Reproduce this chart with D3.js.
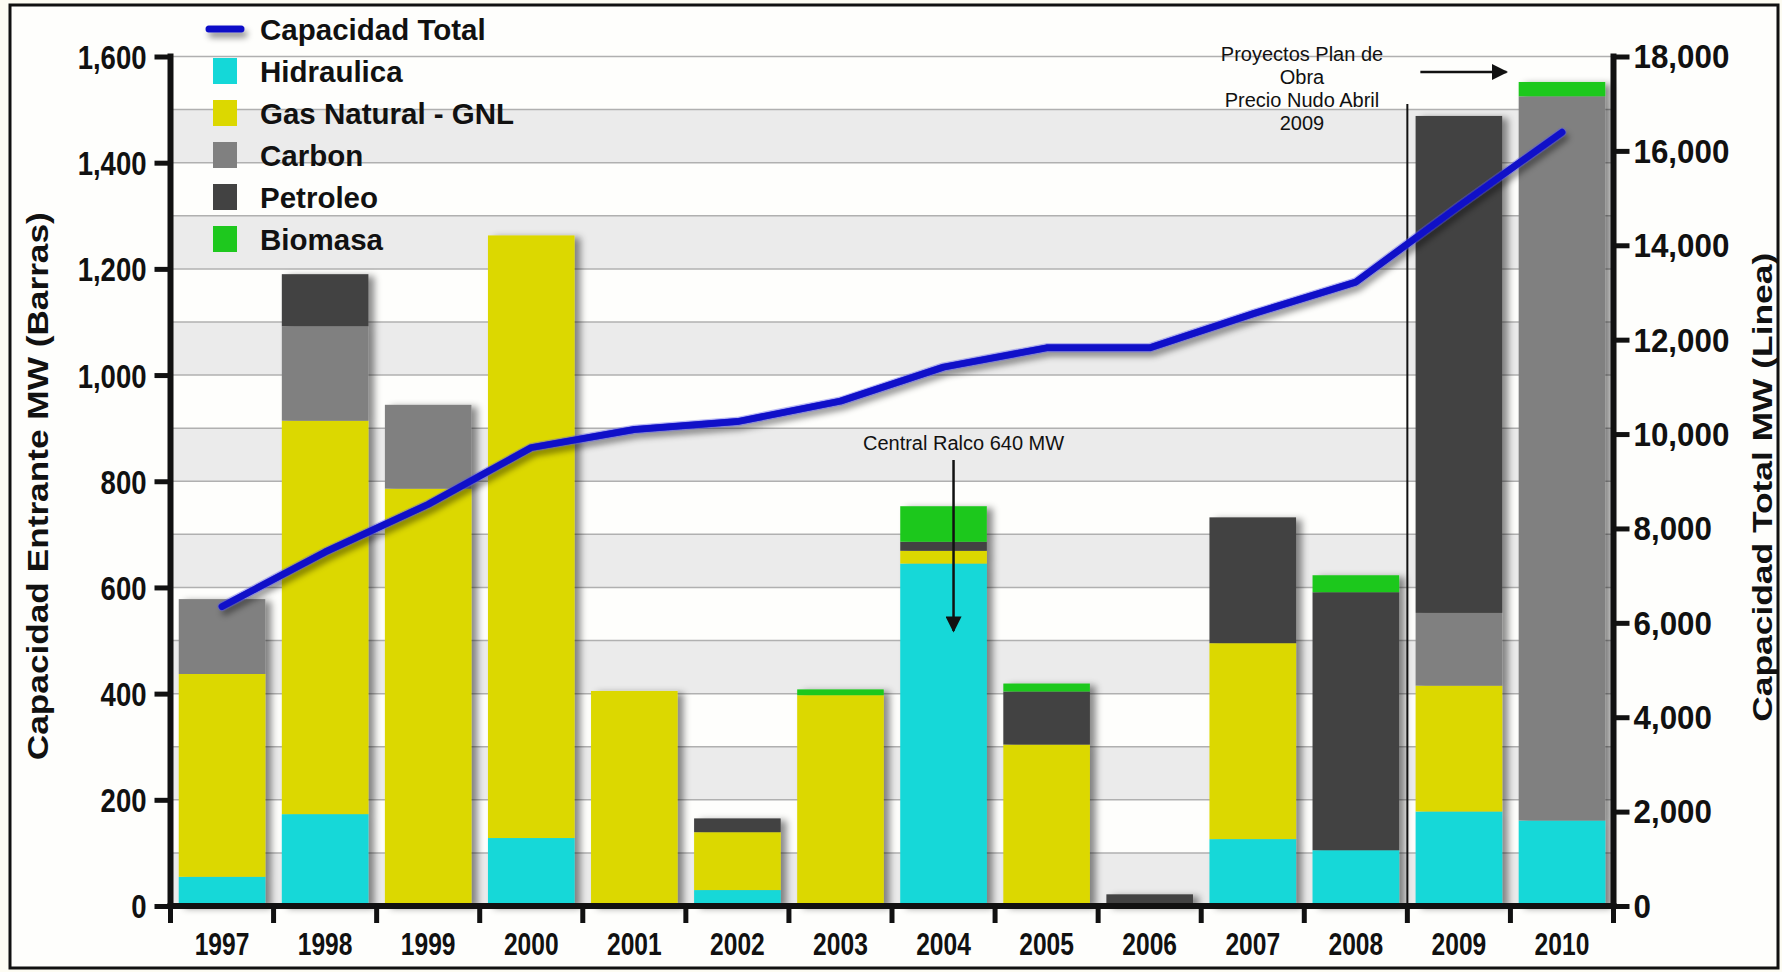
<!DOCTYPE html>
<html><head><meta charset="utf-8">
<script src="https://cdn.jsdelivr.net/npm/d3@7"></script>
<style>
html,body{margin:0;padding:0;background:#fdfcf3;}
svg{display:block;}
text{font-family:"Liberation Sans",Arial,Helvetica,sans-serif;fill:#111;}
</style></head><body>
<svg id="chart" width="1782" height="972"></svg>
<script>
// ---------- DATA ----------
const years = ["1997","1998","1999","2000","2001","2002","2003","2004","2005","2006","2007","2008","2009","2010"];
const hidraulica = [55,173,0,128,0,30,0,645,0,0,126,105,178,161];
const gasNatural = [382,741,786,1135,405,109,397,24,304,0,369,0,237,0];
const carbon     = [141,178,158,0,0,0,0,0,0,0,0,0,137,1364];
const petroleo   = [0,98,0,0,0,26,0,17,100,22,237,486,936,0];
const biomasa    = [0,0,0,0,0,0,11,67,15,0,0,32,0,27];
const capacidadTotal = [6346,7500,8510,9712,10096,10264,10697,11418,11827,11827,12548,13221,14832,16394];
const leftTicks  = [0,200,400,600,800,1000,1200,1400,1600];
const rightTicks = [0,2000,4000,6000,8000,10000,12000,14000,16000,18000];
const seriesKeys   = ["hid","gas","car","pet","bio"];
const seriesNames  = ["Hidraulica","Gas Natural - GNL","Carbon","Petroleo","Biomasa"];
const seriesColors = ["#14d8d8","#dcd800","#808080","#424242","#1ec81e"];
const lineName = "Capacidad Total";
const leftTitle = "Capacidad Entrante MW (Barras)";
const rightTitle = "Capacidad Total MW (Linea)";
const noteRalco = "Central Ralco 640 MW";
const notePlan = ["Proyectos Plan de","Obra","Precio Nudo Abril","2009"];

// ---------- SETUP ----------
const W=1782,H=972;
const svg=d3.select("#chart");
const defs=svg.append("defs");
const fb=defs.append("filter").attr("id","barShadow").attr("x","-10%").attr("y","-10%").attr("width","130%").attr("height","125%");
fb.append("feDropShadow").attr("dx",6).attr("dy",2).attr("stdDeviation",3.5).attr("flood-color","#000").attr("flood-opacity",0.45);
const fl=defs.append("filter").attr("id","lineShadow").attr("filterUnits","userSpaceOnUse")
  .attr("x",0).attr("y",0).attr("width",W).attr("height",H);
fl.append("feDropShadow").attr("dx",3).attr("dy",5).attr("stdDeviation",3).attr("flood-color","#000").attr("flood-opacity",0.45);
defs.append("marker").attr("id","arrowHead").attr("viewBox","0 0 10 10").attr("refX",9).attr("refY",5)
  .attr("markerUnits","userSpaceOnUse").attr("orient","auto")
  .attr("markerWidth",18).attr("markerHeight",16)
  .append("path").attr("d","M0,0 L10,5 L0,10 Z").attr("fill","#111");

svg.append("rect").attr("width",W).attr("height",H).attr("fill","#fdfcf3");
svg.append("rect").attr("x",10).attr("y",5).attr("width",1768).attr("height",963)
  .attr("fill","#fefefc").attr("stroke","#111").attr("stroke-width",3);

const xL=170.5, xR=1613.5, yB=906, yT=56.5;
const x=d3.scaleBand().domain(years).range([xL,xR]).paddingInner(0.16).paddingOuter(0.08);
const step=x.step(), bw=x.bandwidth(), off=step*0.08;
const yL=d3.scaleLinear().domain([0,1600]).range([yB,yT]);
const yR=d3.scaleLinear().domain([0,18000]).range([yB,yT]);

// bands + gridlines
svg.append("g").selectAll("rect").data(d3.range(0,1600,200)).join("rect")
  .attr("x",xL).attr("width",xR-xL).attr("y",d=>yL(d+100)).attr("height",d=>yL(d)-yL(d+100)).attr("fill","#ebebeb");
svg.append("g").selectAll("line").data(d3.range(100,1700,100)).join("line")
  .attr("x1",xL).attr("x2",xR).attr("y1",d=>yL(d)).attr("y2",d=>yL(d)).attr("stroke","#b0b0b0").attr("stroke-width",1.5);

// stacked bars
const rows=years.map((y,i)=>({year:y,hid:hidraulica[i],gas:gasNatural[i],car:carbon[i],pet:petroleo[i],bio:biomasa[i]}));
const stack=d3.stack().keys(seriesKeys)(rows);
const gBars=svg.append("g").attr("filter","url(#barShadow)");
stack.forEach((layer,li)=>{
  gBars.append("g").attr("fill",seriesColors[li]).selectAll("rect").data(layer.filter(d=>d[1]-d[0]>0)).join("rect")
    .attr("x",d=>x(d.data.year)).attr("width",bw)
    .attr("y",d=>yL(d[1])).attr("height",d=>yL(d[0])-yL(d[1]));
});

// separator line
const xSep=x("2009")-off;
svg.append("line").attr("x1",xSep).attr("x2",xSep).attr("y1",104).attr("y2",yB).attr("stroke","#111").attr("stroke-width",2);

// line
const lineData=years.map((y,i)=>({year:y,v:capacidadTotal[i]}));
const lineGen=d3.line().x(d=>x(d.year)+bw/2).y(d=>yR(d.v));
svg.append("path").datum(lineData).attr("d",lineGen).attr("fill","none").attr("stroke","#1010c8")
  .attr("stroke-width",7).attr("stroke-linejoin","round").attr("stroke-linecap","round").attr("filter","url(#lineShadow)");
svg.append("path").datum(lineData).attr("d",lineGen).attr("fill","none").attr("stroke","#5a5aee")
  .attr("stroke-width",9.5).attr("stroke-opacity",0.4).attr("stroke-linejoin","round").attr("stroke-linecap","round");
svg.append("path").datum(lineData).attr("d",lineGen).attr("fill","none").attr("stroke","#1010c8")
  .attr("stroke-width",6.5).attr("stroke-linejoin","round").attr("stroke-linecap","round");

// left axis
const axL=svg.append("g").attr("transform",`translate(${xL},0)`)
  .call(d3.axisLeft(yL).tickValues(leftTicks).tickSize(16).tickSizeOuter(0).tickFormat(d3.format(",")));
axL.select(".domain").attr("stroke","#111").attr("stroke-width",6).attr("d",`M0,${yB+3}V${yT-3}`);
axL.selectAll(".tick line").attr("stroke","#111").attr("stroke-width",5);
axL.selectAll(".tick text").attr("x",null).attr("dy",null).attr("dominant-baseline","central")
  .attr("transform","translate(-24,0) scale(0.86,1.04)").attr("font-size",32).attr("font-weight","bold").attr("text-anchor","end");

// right axis
const axR=svg.append("g").attr("transform",`translate(${xR},0)`)
  .call(d3.axisRight(yR).tickValues(rightTicks).tickSize(16).tickSizeOuter(0).tickFormat(d3.format(",")));
axR.select(".domain").attr("stroke","#111").attr("stroke-width",6).attr("d",`M0,${yB+3}V${yT-3}`);
axR.selectAll(".tick line").attr("stroke","#111").attr("stroke-width",5);
axR.selectAll(".tick text").attr("x",null).attr("dy",null).attr("dominant-baseline","central")
  .attr("transform","translate(20,0) scale(0.95,1.02)").attr("font-size",33).attr("font-weight","bold").attr("text-anchor","start");

// bottom axis
const axB=svg.append("g").attr("transform",`translate(0,${yB})`)
  .call(d3.axisBottom(x).tickSize(0).tickSizeOuter(0));
axB.select(".domain").attr("stroke","#111").attr("stroke-width",6).attr("d",`M${xL-3},0H${xR+3}`);
axB.selectAll(".tick text").attr("y",null).attr("dy",null)
  .attr("transform","translate(0,49) scale(0.82,1.05)").attr("font-size",30).attr("font-weight","bold").attr("text-anchor","middle");
axB.append("g").selectAll("line").data(d3.range(0,years.length+1)).join("line")
  .attr("x1",i=>xL+i*step).attr("x2",i=>xL+i*step).attr("y1",0).attr("y2",17).attr("stroke","#111").attr("stroke-width",5);

// axis titles
svg.append("text").attr("transform",`translate(37,${(yB+yT)/2+5}) rotate(-90)`).attr("text-anchor","middle")
  .attr("dominant-baseline","central").attr("font-size",30).attr("font-weight","bold").attr("fill","#333")
  .attr("textLength",548).attr("lengthAdjust","spacingAndGlyphs").text(leftTitle);
svg.append("text").attr("transform",`translate(1762,${(yB+yT)/2+6}) rotate(-90)`).attr("text-anchor","middle")
  .attr("dominant-baseline","central").attr("font-size",28).attr("font-weight","bold").attr("fill","#333")
  .attr("textLength",469).attr("lengthAdjust","spacingAndGlyphs").text(rightTitle);

// legend
const lg=svg.append("g");
const lgX=212, lgY0=29, lgDy=42;
lg.append("line").attr("x1",lgX-3).attr("x2",lgX+29).attr("y1",lgY0).attr("y2",lgY0).attr("stroke","#1010c8")
  .attr("stroke-width",7).attr("stroke-linecap","round").attr("filter","url(#lineShadow)");
lg.append("text").attr("x",260).attr("y",lgY0+11).attr("font-size",29.5).attr("font-weight","bold").text(lineName);
seriesNames.forEach((n,i)=>{
  const cy=lgY0+lgDy*(i+1);
  lg.append("rect").attr("x",lgX+1).attr("y",cy-13).attr("width",24).attr("height",26).attr("fill",seriesColors[i]);
  lg.append("text").attr("x",260).attr("y",cy+11).attr("font-size",29.5).attr("font-weight","bold").text(n);
});

// annotations
const xr=x("2004")+bw/2;
svg.append("text").attr("x",xr+20).attr("y",yL(858)).attr("text-anchor","middle").attr("font-size",20).attr("fill","#222").text(noteRalco);
svg.append("line").attr("x1",xr+10).attr("x2",xr+10).attr("y1",yL(840)).attr("y2",yL(518)).attr("stroke","#111").attr("stroke-width",2.5).attr("marker-end","url(#arrowHead)");
notePlan.forEach((t,i)=>{
  svg.append("text").attr("x",1302).attr("y",61+i*23).attr("text-anchor","middle").attr("font-size",20).attr("fill","#222").text(t);
});
svg.append("line").attr("x1",xSep+13).attr("x2",x("2010")-off-4).attr("y1",72).attr("y2",72).attr("stroke","#111").attr("stroke-width",2.5).attr("marker-end","url(#arrowHead)");
</script>
</body></html>
